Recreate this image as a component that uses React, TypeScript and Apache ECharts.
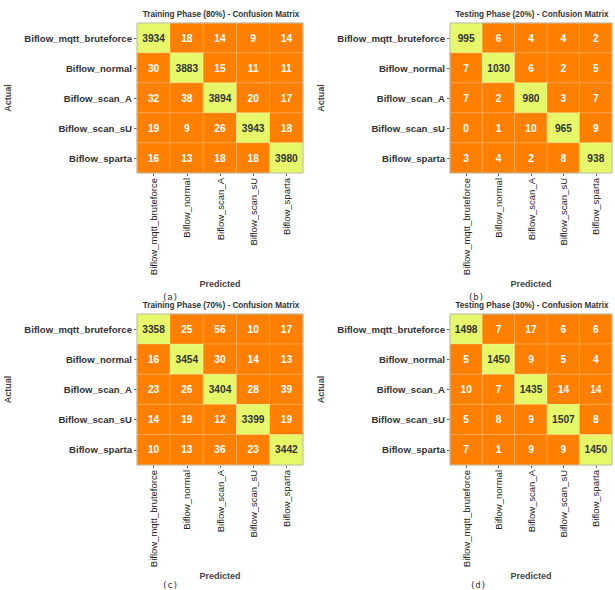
import React, { useEffect, useRef } from "react";
import * as echarts from "echarts";

const categories = [
  "Biflow_mqtt_bruteforce",
  "Biflow_normal",
  "Biflow_scan_A",
  "Biflow_scan_sU",
  "Biflow_sparta",
];

const titles = [
  "Training Phase (80%) - Confusion Matrix",
  "Testing Phase (20%) - Confusion Matrix",
  "Training Phase (70%) - Confusion Matrix",
  "Testing Phase (30%) - Confusion Matrix",
];

const captions = ["(a)", "(b)", "(c)", "(d)"];

const train80 = [
  [3934, 18, 14, 9, 14],
  [30, 3883, 15, 11, 11],
  [32, 38, 3894, 20, 17],
  [19, 9, 26, 3943, 18],
  [16, 13, 18, 18, 3980],
];

const test20 = [
  [995, 6, 4, 4, 2],
  [7, 1030, 6, 2, 5],
  [7, 2, 980, 3, 7],
  [0, 1, 10, 965, 9],
  [3, 4, 2, 8, 938],
];

const train70 = [
  [3358, 25, 56, 10, 17],
  [16, 3454, 30, 14, 13],
  [23, 26, 3404, 28, 39],
  [14, 19, 12, 3399, 19],
  [10, 13, 36, 23, 3442],
];

const test30 = [
  [1498, 7, 17, 6, 6],
  [5, 1450, 9, 5, 4],
  [10, 7, 1435, 14, 14],
  [5, 8, 9, 1507, 8],
  [7, 1, 9, 9, 1450],
];

const matrices = [train80, test20, train70, test30];

const ORANGE = "#ff7f00";
const DIAG = "#e6f86a";
const FONT = "Liberation Sans, Arial";

const panels = [
  { left: 137, top: 23, width: 166, height: 150, capX: 170, capY: 292 },
  { left: 450, top: 23, width: 162, height: 150, capX: 476, capY: 292 },
  { left: 137, top: 314, width: 166, height: 151, capX: 170, capY: 580 },
  { left: 450, top: 314, width: 162, height: 151, capX: 478, capY: 580 },
];

export default function App() {
  const ref = useRef<HTMLDivElement>(null);
  useEffect(() => {
    if (!ref.current) return;
    const chart = echarts.init(ref.current, undefined, { renderer: "svg" });
    const grid: any[] = [];
    const xAxis: any[] = [];
    const yAxis: any[] = [];
    const series: any[] = [];
    const graphic: any[] = [];
    panels.forEach((p, i) => {
      grid.push({
        left: p.left,
        top: p.top,
        width: p.width,
        height: p.height,
        show: true,
        borderColor: "#b8bca8",
        borderWidth: 1,
        backgroundColor: "transparent",
        z: 10,
      });
      xAxis.push({
        type: "category",
        data: categories,
        gridIndex: i,
        name: "Predicted",
        nameLocation: "middle",
        nameGap: 106,
        nameTextStyle: { fontSize: 9, fontWeight: "bold", color: "#444", fontFamily: FONT },
        axisLine: { show: false },
        axisTick: { show: true, length: 3, lineStyle: { color: "#666" }, alignWithLabel: true },
        splitLine: { show: false },
        axisLabel: {
          rotate: 90,
          fontSize: 9.5,
          color: "#222",
          margin: 5,
          fontFamily: FONT,
        },
      });
      yAxis.push({
        type: "category",
        data: categories,
        gridIndex: i,
        inverse: true,
        name: "Actual",
        nameLocation: "middle",
        nameGap: 125,
        nameRotate: 90,
        nameTextStyle: { fontSize: 9, fontWeight: "bold", color: "#444", fontFamily: FONT },
        axisLine: { show: false },
        axisTick: { show: true, length: 3, lineStyle: { color: "#666" }, alignWithLabel: true },
        splitLine: { show: false },
        axisLabel: {
          fontSize: 9.6,
          fontWeight: "bold",
          color: "#333",
          margin: 5,
          fontFamily: FONT,
        },
      });
      const data: any[] = [];
      matrices[i].forEach((row, r) =>
        row.forEach((v, c) => {
          data.push([c, r, v, r === c ? 1 : 0]);
        })
      );
      series.push({
        type: "heatmap",
        xAxisIndex: i,
        yAxisIndex: i,
        data,
        itemStyle: { borderColor: "rgba(255,255,255,0.45)", borderWidth: 0.6 },
        label: {
          show: true,
          fontFamily: FONT,
          formatter: (pr: any) => (pr.value[3] ? `{d|${pr.value[2]}}` : `{o|${pr.value[2]}}`),
          rich: {
            d: { color: "#333", fontSize: 10.2, fontWeight: "bold", fontFamily: FONT },
            o: { color: "#fff", fontSize: 10.2, fontWeight: "bold", fontFamily: FONT },
          },
        },
        emphasis: { disabled: true },
      });
      graphic.push({
        type: "text",
        x: p.left + p.width / 2 + 1,
        y: p.top - 13,
        style: {
          text: titles[i],
          fontSize: 8.2,
          fontWeight: "bold",
          fill: "#333",
          fontFamily: FONT,
          textAlign: "center",
        },
        z: 20,
      });
      graphic.push({
        type: "text",
        x: p.capX,
        y: p.capY,
        style: {
          text: captions[i],
          fontSize: 9,
          fill: "#333",
          fontFamily: "DejaVu Sans Mono, monospace",
          textAlign: "center",
        },
        z: 20,
      });
    });
    chart.setOption({
      animation: false,
      backgroundColor: "#fff",
      grid,
      xAxis,
      yAxis,
      series,
      graphic,
      visualMap: {
        type: "piecewise",
        show: false,
        dimension: 3,
        seriesIndex: [0, 1, 2, 3],
        pieces: [
          { value: 0, color: ORANGE },
          { value: 1, color: DIAG },
        ],
      },
    });
    return () => chart.dispose();
  }, []);
  return (
    <div
      ref={ref}
      style={{ position: "fixed", left: 0, top: 0, width: 615, height: 590 }}
    />
  );
}
